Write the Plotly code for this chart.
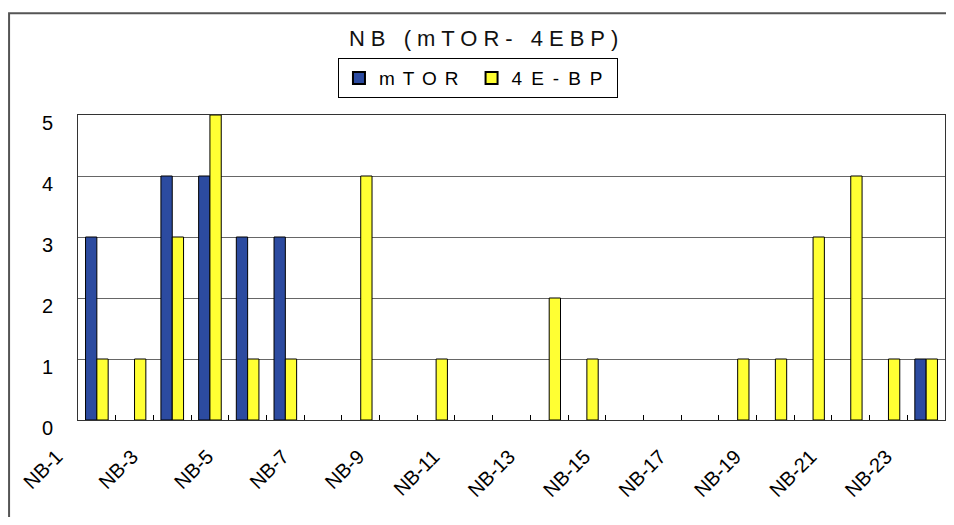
import plotly.graph_objects as go

categories = [f"NB-{i}" for i in range(1, 24)]
tick_labels = [c if i % 2 == 0 else "" for i, c in enumerate(categories)]   # NB-1, NB-3, ... NB-23
mtor = [3, 0, 4, 4, 3, 3, 0, 0, 0, 0, 0, 0, 0, 0, 0, 0, 0, 0, 0, 0, 0, 0, 1]
ebp = [1, 1, 3, 5, 1, 1, 0, 4, 0, 1, 0, 0, 2, 1, 0, 0, 0, 1, 1, 3, 4, 1, 1]
y_ticks = [0, 1, 2, 3, 4, 5]

FONT = "Liberation Sans, Arial, sans-serif"

# page body keeps its default 8px margin, so the figure is sized to fit the window
W, H = 946, 509
ML, MR, MT, MB = 2, 9, 107, 97
PLOT_LEFT = 70                      # left edge of the plotting area inside the figure (px)
paper_w = W - ML - MR
d0 = (PLOT_LEFT - ML) / paper_w
n = len(categories)
px_per_cat = (W - MR - PLOT_LEFT) / n
label_offset = 1.06                 # Excel-style: rotated label ends left of its category


def spaced(txt, px):
    return f'<span style="letter-spacing:{px}px">{txt}</span>'


fig = go.Figure()
fig.add_trace(go.Bar(name=spaced("mTOR", 8), x=categories, y=mtor,
                     marker=dict(color="#2C4BA0",
                                 line=dict(color="black", width=[1 if v else 0 for v in mtor]))))
fig.add_trace(go.Bar(name=spaced("4E-BP", 9), x=categories, y=ebp,
                     marker=dict(color="#FFFF33",
                                 line=dict(color="black", width=[1 if v else 0 for v in ebp]))))
# empty carrier trace so the label-only category axis (x2) gets drawn
fig.add_trace(go.Scatter(x=categories, y=[None] * n, mode="lines", xaxis="x2", yaxis="y2",
                         showlegend=False, hoverinfo="skip"))

fig.update_layout(
    width=W, height=H,
    margin=dict(l=ML, r=MR, t=MT, b=MB),
    paper_bgcolor="white", plot_bgcolor="rgba(0,0,0,0)",
    barmode="group", bargap=0.4, bargroupgap=0,
    font=dict(family=FONT, color="black"),
    title=dict(text=spaced("NB (mTOR- 4EBP)", 6), x=0.506, xanchor="center", y=0.941, yanchor="middle",
               font=dict(size=22, family=FONT, color="#111")),
    legend=dict(orientation="h", x=0.5005, xanchor="center", y=1.121, yanchor="middle",
                bordercolor="black", borderwidth=1, bgcolor="white",
                font=dict(size=19, family=FONT),
                itemsizing="constant"),
    showlegend=True,
    shapes=[dict(type="rect", xref="paper", yref="paper", x0=-0.001, x1=1.03,
                 y0=-0.5, y1=1.334, line=dict(color="#555", width=2), fillcolor="rgba(0,0,0,0)",
                 layer="below")],
)

fig.update_layout(
    xaxis=dict(
        domain=[d0, 1],
        type="category", categoryarray=categories,
        tickmode="array", tickvals=categories, showticklabels=False,
        tickson="boundaries", ticks="inside", ticklen=5, tickcolor="black",
        showline=True, linecolor="#333", linewidth=1, mirror=True,
        showgrid=False, range=[-0.5, n - 0.5], automargin=False,
    ),
    yaxis=dict(
        range=[0, 5], tickmode="array", tickvals=y_ticks,
        tickfont=dict(size=20, family=FONT), ticks="",
        ticklabelstandoff=20, ticklabelshift=8,
        showgrid=True, gridcolor="#666", gridwidth=1,
        showline=True, linecolor="#333", linewidth=1, mirror=True,
        zeroline=False, automargin=False,
    ),
    # label-only category axis spanning into the left margin, same scale, shifted like Excel
    xaxis2=dict(
        domain=[0, 1], anchor="y2",
        type="category", categoryarray=categories,
        range=[-0.5 + label_offset - (PLOT_LEFT - ML) / px_per_cat, n - 0.5 + label_offset],
        tickmode="array", tickvals=categories, ticktext=tick_labels,
        tickangle=-45, tickfont=dict(size=20, family=FONT),
        ticks="", ticklabelstandoff=20,
        showline=False, showgrid=False, zeroline=False, automargin=False,
    ),
    yaxis2=dict(domain=[0, 1], anchor="x2", range=[0, 5], visible=False,
                showgrid=False, zeroline=False),
)

fig.write_html("out.html", config={"displayModeBar": False})
